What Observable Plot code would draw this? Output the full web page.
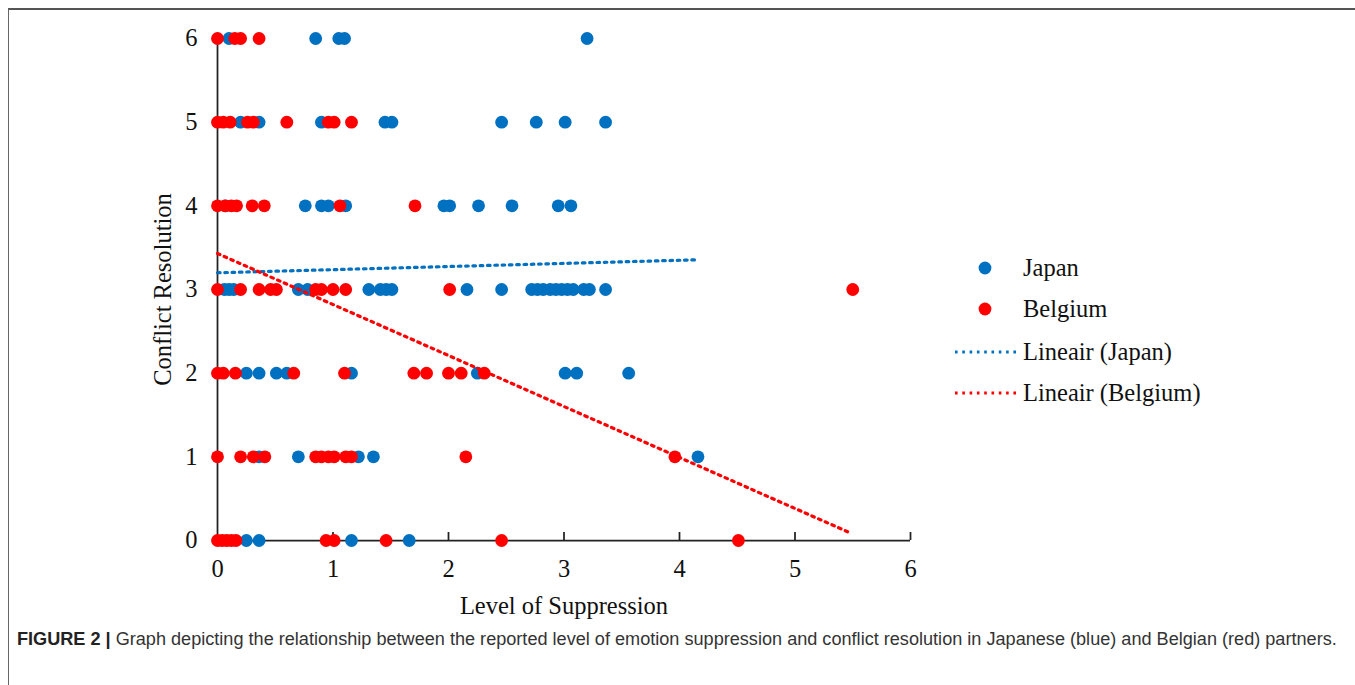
<!DOCTYPE html>
<html>
<head>
<meta charset="utf-8">
<script src="https://cdn.jsdelivr.net/npm/d3@7"></script>
<script src="https://cdn.jsdelivr.net/npm/@observablehq/plot@0.6"></script>
<style>
  html, body { margin: 0; padding: 0; background: #fff; }
  #wrap { position: relative; width: 1355px; height: 685px; overflow: hidden; }
  #frame { position: absolute; left: 8px; top: 8px; width: 1400px; height: 700px;
           border-left: 1px solid #666; border-top: 2px solid #555; }
  #chart { position: absolute; left: 0; top: 0; }
  #legend { position: absolute; left: 950px; top: 248px; font-family: "Liberation Serif", "Times New Roman", serif;
            font-size: 24.5px; color: #111; }
  .item { position: absolute; left: 0; height: 40px; width: 320px; }
  .item svg { position: absolute; left: 0; top: 0; }
  .item span { position: absolute; left: 73px; top: 50%; transform: translateY(-50%); white-space: nowrap; }
  #caption { position: absolute; left: 17px; top: 629px; font-family: "Liberation Sans", Arial, sans-serif;
             font-size: 18.12px; color: #333; white-space: nowrap; }
  #caption b { color: #222; }
</style>
</head>
<body>
<div id="wrap">
  <div id="frame"></div>
  <div id="chart"></div>
  <div id="legend"></div>
  <div id="caption"><b>FIGURE 2 |</b> Graph depicting the relationship between the reported level of emotion suppression and conflict resolution in Japanese (blue) and Belgian (red) partners.</div>
</div>
<script>
// ---- data ----
const japanSuppression = [
  0.1, 0.85, 1.05, 1.1, 3.2,
  0.2, 0.36, 0.9, 1.45, 1.51, 2.46, 2.76, 3.01, 3.36,
  0.07, 0.76, 0.9, 0.96, 1.11, 1.96, 2.01, 2.26, 2.55, 2.95, 3.06,
  0.06, 0.1, 0.14, 0.7, 0.78, 1.31, 1.41, 1.46, 1.51, 2.16, 2.46, 2.72, 2.77, 2.82, 2.88, 2.93, 2.98, 3.03, 3.08, 3.17, 3.22, 3.36,
  0.25, 0.36, 0.51, 0.6, 1.16, 2.25, 3.01, 3.11, 3.56,
  0.36, 0.7, 1.22, 1.35, 4.16,
  0.25, 0.36, 1.16, 1.66
];
const japanConflict = [
  6, 6, 6, 6, 6,
  5, 5, 5, 5, 5, 5, 5, 5, 5,
  4, 4, 4, 4, 4, 4, 4, 4, 4, 4, 4,
  3, 3, 3, 3, 3, 3, 3, 3, 3, 3, 3, 3, 3, 3, 3, 3, 3, 3, 3, 3, 3, 3,
  2, 2, 2, 2, 2, 2, 2, 2, 2,
  1, 1, 1, 1, 1,
  0, 0, 0, 0
];
const belgiumSuppression = [
  0, 0.15, 0.2, 0.36,
  0, 0.05, 0.11, 0.26, 0.31, 0.6, 0.96, 1.01, 1.16,
  0, 0.065, 0.12, 0.165, 0.3, 0.405, 1.06, 1.71,
  0, 0.2, 0.36, 0.46, 0.51, 0.85, 0.9, 1.0, 1.11, 2.01, 5.5,
  0, 0.05, 0.155, 0.66, 1.1, 1.7, 1.81, 2.0, 2.11, 2.31,
  0, 0.2, 0.31, 0.41, 0.85, 0.9, 0.96, 1.01, 1.11, 1.16, 2.15, 3.96,
  0, 0.04, 0.08, 0.12, 0.16, 0.94, 1.01, 1.46, 2.46, 4.51
];
const belgiumConflict = [
  6, 6, 6, 6,
  5, 5, 5, 5, 5, 5, 5, 5, 5,
  4, 4, 4, 4, 4, 4, 4, 4,
  3, 3, 3, 3, 3, 3, 3, 3, 3, 3, 3,
  2, 2, 2, 2, 2, 2, 2, 2, 2, 2,
  1, 1, 1, 1, 1, 1, 1, 1, 1, 1, 1, 1,
  0, 0, 0, 0, 0, 0, 0, 0, 0, 0
];
// linear trend lines (endpoints)
const trendJapanX = [0, 4.15];
const trendJapanY = [3.2, 3.355];
const trendBelgiumX = [0, 5.48];
const trendBelgiumY = [3.43, 0.09];

const xTicks = [0, 1, 2, 3, 4, 5, 6];
const yTicks = [0, 1, 2, 3, 4, 5, 6];
const seriesNames = ["Japan", "Belgium", "Lineair (Japan)", "Lineair (Belgium)"];
const xTitle = "Level of Suppression";
const yTitle = "Conflict Resolution";

const BLUE = "#0070C0", RED = "#FF0000";

const japan = japanSuppression.map((x, i) => ({x, y: japanConflict[i]}));
const belgium = belgiumSuppression.map((x, i) => ({x, y: belgiumConflict[i]}));
const trendJapan = trendJapanX.map((x, i) => ({x, y: trendJapanY[i]}));
const trendBelgium = trendBelgiumX.map((x, i) => ({x, y: trendBelgiumY[i]}));

const serif = "'Liberation Serif', 'Times New Roman', serif";
const FS = 24.5;
const fmt = d3.format("d");

const chart = Plot.plot({
  width: 1355,
  height: 620,
  marginLeft: 217,
  marginRight: 445,
  marginTop: 38,
  marginBottom: 80,
  style: {fontFamily: serif, fontSize: FS + "px", color: "#111", background: "transparent"},
  x: {domain: [0, 6]},
  y: {domain: [0, 6]},
  marks: [
    Plot.axisY(yTicks, {tickSize: 0, tickPadding: 20, tickFormat: fmt, label: null, fontSize: FS, fontFamily: serif, fill: "#111"}),
    Plot.axisX(xTicks, {tickSize: 0, tickPadding: 19, tickFormat: fmt, label: null, fontSize: FS, fontFamily: serif, fill: "#111"}),
    Plot.axisX(xTicks.slice(1), {tickSize: 8, dy: -8, tickFormat: () => "", label: null, stroke: "#222", strokeWidth: 1.75}),
    Plot.ruleX([0], {stroke: "#222", strokeWidth: 1.75}),
    Plot.ruleY([0], {stroke: "#222", strokeWidth: 1.75}),
    Plot.dot(japan, {x: "x", y: "y", r: 6.4, fill: BLUE, stroke: "none"}),
    Plot.dot(belgium, {x: "x", y: "y", r: 6.4, fill: RED, stroke: "none"}),
    Plot.line(trendJapan, {x: "x", y: "y", stroke: BLUE, strokeWidth: 3.2, strokeDasharray: "2.6 4.7"}),
    Plot.line(trendBelgium, {x: "x", y: "y", stroke: RED, strokeWidth: 3.2, strokeDasharray: "2.6 4.7"}),
    Plot.text([yTitle], {text: d => d, frameAnchor: "left", dx: -54, rotate: -90, textAnchor: "middle", lineAnchor: "middle", fontSize: FS, fontFamily: serif, fill: "#111"}),
    Plot.text([xTitle], {text: d => d, frameAnchor: "bottom", dy: 66, textAnchor: "middle", lineAnchor: "middle", fontSize: FS, fontFamily: serif, fill: "#111"})
  ]
});
document.getElementById("chart").appendChild(chart);

// ---- legend ----
const legend = document.getElementById("legend");
const legendRows = [
  {name: seriesNames[0], kind: "dot", color: BLUE, cy: 268},
  {name: seriesNames[1], kind: "dot", color: RED, cy: 309},
  {name: seriesNames[2], kind: "line", color: BLUE, cy: 352},
  {name: seriesNames[3], kind: "line", color: RED, cy: 393}
];
legendRows.forEach(row => {
  const div = document.createElement("div");
  div.className = "item";
  div.style.top = (row.cy - 248 - 20) + "px";
  const svg = d3.create("svg").attr("width", 72).attr("height", 40);
  if (row.kind === "dot") {
    svg.append("circle").attr("cx", 35).attr("cy", 20).attr("r", 6.4).attr("fill", row.color);
  } else {
    svg.append("line").attr("x1", 5).attr("x2", 70).attr("y1", 20).attr("y2", 20)
      .attr("stroke", row.color).attr("stroke-width", 3.2).attr("stroke-dasharray", "2.6 4.7");
  }
  div.appendChild(svg.node());
  const span = document.createElement("span");
  span.textContent = row.name;
  div.appendChild(span);
  legend.appendChild(div);
});
</script>
</body>
</html>
